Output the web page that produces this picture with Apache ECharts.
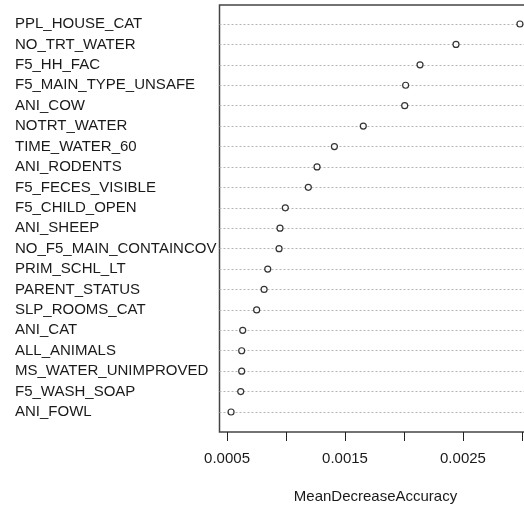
<!DOCTYPE html>
<html>
<head>
<meta charset="utf-8">
<script src="https://cdn.jsdelivr.net/npm/echarts@6/dist/echarts.min.js"></script>
<style>
    html, body { margin: 0; padding: 0; background: #fff; }
    #chart { width: 524px; height: 510px; }
</style>
</head>
<body>
<div id="chart"></div>
<script>
// variable importance (random forest), top to bottom
const variables = [
    "PPL_HOUSE_CAT", "NO_TRT_WATER", "F5_HH_FAC", "F5_MAIN_TYPE_UNSAFE",
    "ANI_COW", "NOTRT_WATER", "TIME_WATER_60", "ANI_RODENTS",
    "F5_FECES_VISIBLE", "F5_CHILD_OPEN", "ANI_SHEEP", "NO_F5_MAIN_CONTAINCOV",
    "PRIM_SCHL_LT", "PARENT_STATUS", "SLP_ROOMS_CAT", "ANI_CAT",
    "ALL_ANIMALS", "MS_WATER_UNIMPROVED", "F5_WASH_SOAP", "ANI_FOWL",
];
const meanDecreaseAccuracy = [
    0.002983, 0.002441, 0.002136, 0.002014,
    0.002006, 0.001655, 0.00141, 0.001263,
    0.001189, 0.000994, 0.000949, 0.000941,
    0.000845, 0.000814, 0.000751, 0.000633,
    0.000624, 0.000624, 0.000616, 0.000534,
];
const tickValues = [0.0005, 0.001, 0.0015, 0.002, 0.0025, 0.003];
const tickLabels = [0.0005, 0.0015, 0.0025];
const xRange = [0.000436, 0.003081];

const textColor = "#1a1a1a";
const fontFamily = "'Liberation Sans', Arial, sans-serif";

const chart = echarts.init(document.getElementById("chart"), null, {
    renderer: "canvas",
});

chart.setOption({
    backgroundColor: "#fff",
    animation: false,
    grid: [
        // data area (rows); the frame runs past the right edge of the picture
        {
            left: 219.5, top: 24, width: 312, height: 388,
            outerBoundsMode: "none",
        },
        // plot frame
        {
            left: 219.5, top: 5, width: 312, height: 427,
            outerBoundsMode: "none",
            show: true, borderColor: "#444", borderWidth: 1.5,
            backgroundColor: "transparent",
        },
    ],
    xAxis: [
        {
            type: "value",
            gridIndex: 0,
            min: xRange[0],
            max: xRange[1],
            offset: 20,
            axisLine: { show: false },
            axisTick: {
                show: true,
                length: 9,
                customValues: tickValues,
                lineStyle: { color: "#222", width: 1 },
            },
            axisLabel: {
                customValues: tickLabels,
                formatter: (v) => v.toFixed(4),
                color: textColor,
                fontSize: 15,
                fontFamily,
                margin: 19,
            },
            splitLine: { show: false },
            name: "MeanDecreaseAccuracy",
            nameLocation: "middle",
            nameGap: 57,
            nameTextStyle: { color: textColor, fontSize: 15, fontFamily },
        },
        {
            type: "value",
            gridIndex: 1,
            show: false,
        },
    ],
    yAxis: [
        {
            type: "category",
            gridIndex: 0,
            data: variables,
            inverse: true,
            boundaryGap: false,
            axisLine: { show: false },
            axisTick: { show: false },
            axisLabel: {
                align: "left",
                margin: 204.5,
                color: textColor,
                fontSize: 15,
                fontFamily,
                padding: [0, 0, 4, 0],
            },
            splitLine: {
                show: true,
                lineStyle: { color: "#b4b4b4", type: [2, 2], width: 1 },
            },
        },
        {
            type: "value",
            gridIndex: 1,
            show: false,
        },
    ],
    series: [
        {
            type: "scatter",
            xAxisIndex: 0,
            yAxisIndex: 0,
            data: meanDecreaseAccuracy,
            symbol: "circle",
            symbolSize: 6,
            itemStyle: {
                color: "#fff",
                borderColor: "#000",
                borderWidth: 1.2,
            },
            emphasis: { disabled: true },
        },
    ],
});
</script>
</body>
</html>
